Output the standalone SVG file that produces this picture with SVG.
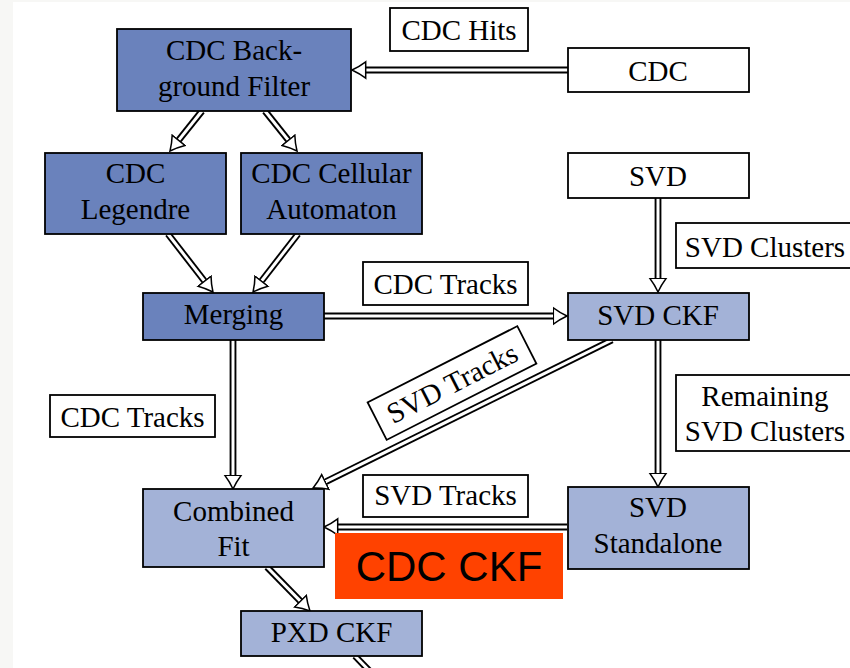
<svg xmlns="http://www.w3.org/2000/svg" width="850" height="668" viewBox="0 0 850 668">
<defs>
<style>
.dark{fill:#6a82bc;stroke:#000;stroke-width:1.8}
.light{fill:#a3b2d7;stroke:#000;stroke-width:1.8}
.lab{fill:#fff;stroke:#000;stroke-width:1.8}
.t{font-family:"Liberation Serif","Times New Roman",serif;font-size:29px;fill:#000;text-anchor:middle}
.outer{fill:none;stroke:#000;stroke-width:6.8;stroke-linecap:butt}
.inner{fill:none;stroke:#fff;stroke-width:3;stroke-linecap:butt}
</style>
<marker id="ah" markerUnits="userSpaceOnUse" viewBox="0 0 20 20" markerWidth="20" markerHeight="20" refX="2.5" refY="10" orient="auto">
<path d="M0.8,1.8 Q7,6.5 14.5,10 Q7,13.5 0.8,18.2 Z" fill="#fff" stroke="#000" stroke-width="1.5" stroke-linejoin="miter"/>
</marker>
</defs>
<rect x="0" y="0" width="850" height="668" fill="#f7f7f5"/>
<rect x="13" y="2" width="837" height="666" fill="#fff"/>

<g id="connectors">
<path class="outer" d="M569,70 L364,70"/><path class="inner" d="M569,70 L364,70" marker-end="url(#ah)"/>
<path class="outer" d="M202,111 L177.5,141.6"/><path class="inner" d="M202,111 L177.5,141.6" marker-end="url(#ah)"/>
<path class="outer" d="M265,111 L289.5,141.6"/><path class="inner" d="M265,111 L289.5,141.6" marker-end="url(#ah)"/>
<path class="outer" d="M168,234 L205.6,282.5"/><path class="inner" d="M168,234 L205.6,282.5" marker-end="url(#ah)"/>
<path class="outer" d="M298,234 L260.4,282.5"/><path class="inner" d="M298,234 L260.4,282.5" marker-end="url(#ah)"/>
<path class="outer" d="M324,316 L555,316"/><path class="inner" d="M324,316 L555,316" marker-end="url(#ah)"/>
<path class="outer" d="M658,198 L658,280"/><path class="inner" d="M658,198 L658,280" marker-end="url(#ah)"/>
<path class="outer" d="M233,340 L233,477"/><path class="inner" d="M233,340 L233,477" marker-end="url(#ah)"/>
<path class="outer" d="M612,340 L323.8,482.7"/><path class="inner" d="M612,340 L323.8,482.7" marker-end="url(#ah)"/>
<path class="outer" d="M658,340 L658,475"/><path class="inner" d="M658,340 L658,475" marker-end="url(#ah)"/>
<path class="outer" d="M567,527 L336,527"/><path class="inner" d="M567,527 L336,527" marker-end="url(#ah)"/>
<path class="outer" d="M267,567 L301.6,602.4"/><path class="inner" d="M267,567 L301.6,602.4" marker-end="url(#ah)"/>
<path class="outer" d="M355,656 L388,690"/><path class="inner" d="M355,656 L388,690"/>
</g>

<g id="bgfilter"><rect class="dark" x="117" y="29" width="234" height="82"/><text class="t" x="234" y="60">CDC Back-</text><text class="t" x="234" y="96">ground Filter</text></g>
<g id="cdc"><rect class="lab" x="568" y="48" width="181" height="44"/><text class="t" x="658" y="81">CDC</text></g>
<g id="legendre"><rect class="dark" x="45" y="153" width="181" height="81"/><text class="t" x="135.5" y="183">CDC</text><text class="t" x="135.5" y="219">Legendre</text></g>
<g id="cellular"><rect class="dark" x="241" y="153" width="181" height="81"/><text class="t" x="331.5" y="183">CDC Cellular</text><text class="t" x="331.5" y="219">Automaton</text></g>
<g id="merging"><rect class="dark" x="143" y="293" width="181" height="47"/><text class="t" x="233.5" y="324">Merging</text></g>
<g id="svd"><rect class="lab" x="568" y="153" width="181" height="45"/><text class="t" x="658" y="186">SVD</text></g>
<g id="svdckf"><rect class="light" x="568" y="293" width="181" height="47"/><text class="t" x="658" y="325">SVD CKF</text></g>
<g id="standalone"><rect class="light" x="568" y="487" width="181" height="82"/><text class="t" x="658" y="517">SVD</text><text class="t" x="658" y="553">Standalone</text></g>
<g id="combined"><rect class="light" x="143" y="489" width="181" height="78"/><text class="t" x="233.5" y="521">Combined</text><text class="t" x="233.5" y="556">Fit</text></g>
<g id="pxdckf"><rect class="light" x="241" y="611" width="181" height="45"/><text class="t" x="331.5" y="642">PXD CKF</text></g>

<g id="lbl-cdchits"><rect class="lab" x="390" y="8" width="138" height="43"/><text class="t" x="459" y="40">CDC Hits</text></g>
<g id="lbl-cdctracks1"><rect class="lab" x="363" y="262" width="165" height="43"/><text class="t" x="445.5" y="294">CDC Tracks</text></g>
<g id="lbl-svdclusters"><rect class="lab" x="676" y="223" width="180" height="45"/><text class="t" x="765" y="257">SVD Clusters</text></g>
<g id="lbl-remaining"><rect class="lab" x="676" y="375" width="180" height="76"/><text class="t" x="765" y="406">Remaining</text><text class="t" x="765" y="441">SVD Clusters</text></g>
<g id="lbl-cdctracks2"><rect class="lab" x="50" y="395" width="165" height="42"/><text class="t" x="132.5" y="427">CDC Tracks</text></g>
<g id="lbl-svdtracks1"><rect class="lab" x="363" y="475" width="165" height="42"/><text class="t" x="445.5" y="505">SVD Tracks</text></g>
<g id="lbl-svdtracks2" transform="translate(452,383) rotate(-27)"><rect class="lab" x="-84" y="-21" width="168" height="42"/><text class="t" x="0" y="10">SVD Tracks</text></g>

<g id="cdcckf"><rect x="335" y="533" width="228" height="66" fill="#ff4200"/><text x="449" y="581" font-family="'Liberation Sans',Arial,sans-serif" font-size="42" fill="#000" text-anchor="middle">CDC CKF</text></g>
</svg>
